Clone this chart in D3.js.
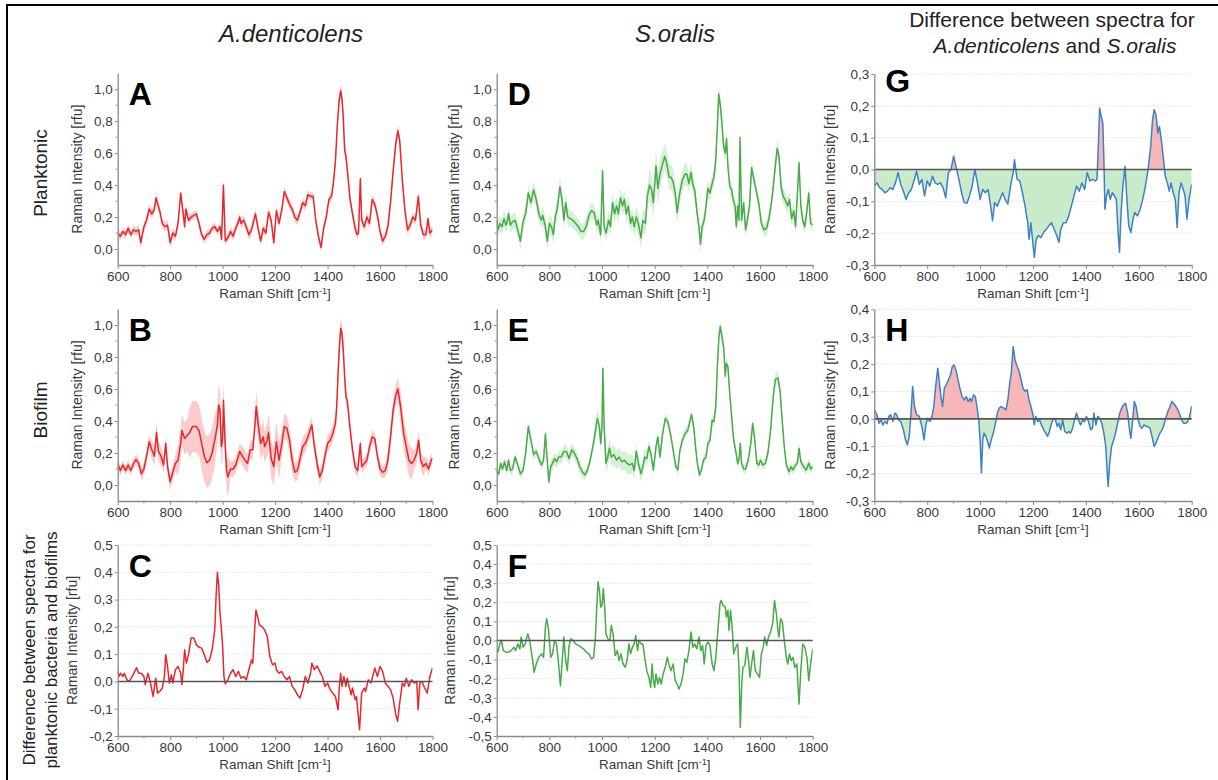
<!DOCTYPE html>
<html>
<head>
<meta charset="utf-8">
<script src="https://cdn.jsdelivr.net/npm/d3@7"></script>
<style>
  body { margin: 0; background: #fff; }
  svg { display: block; }
  text { font-family: "Liberation Sans", Arial, sans-serif; }
</style>
</head>
<body>
<svg id="fig" width="1218" height="780"></svg>
<script>
// ---------- spectra: [Raman shift (cm-1), intensity (rfu)] ----------
const planktonicAden = [[600,0.10],[610,0.08],[620,0.11],[630,0.09],[640,0.13],[650,0.09],[660,0.12],[670,0.11],[680,0.12],[688,0.04],[700,0.14],[710,0.18],[720,0.25],[730,0.22],[740,0.25],[746,0.32],[760,0.24],[770,0.16],[780,0.14],[790,0.15],[800,0.04],[810,0.10],[820,0.08],[830,0.16],[840,0.35],[850,0.22],[855,0.14],[860,0.25],[870,0.18],[880,0.20],[890,0.21],[900,0.22],[910,0.16],[920,0.09],[930,0.06],[940,0.09],[950,0.10],[960,0.13],[970,0.14],[980,0.11],[990,0.14],[996,0.06],[1003,0.40],[1010,0.05],[1020,0.07],[1030,0.11],[1040,0.08],[1050,0.13],[1060,0.17],[1065,0.20],[1070,0.16],[1080,0.18],[1090,0.14],[1100,0.09],[1110,0.12],[1125,0.22],[1135,0.13],[1145,0.05],[1155,0.13],[1165,0.10],[1175,0.23],[1185,0.18],[1195,0.04],[1205,0.24],[1215,0.16],[1225,0.24],[1235,0.36],[1245,0.32],[1255,0.28],[1265,0.25],[1275,0.20],[1285,0.18],[1295,0.23],[1305,0.29],[1315,0.27],[1325,0.34],[1335,0.33],[1345,0.33],[1355,0.18],[1365,0.08],[1375,0.01],[1385,0.13],[1395,0.20],[1405,0.31],[1415,0.33],[1422,0.41],[1430,0.55],[1437,0.77],[1444,0.93],[1450,0.99],[1455,0.94],[1460,0.82],[1465,0.62],[1470,0.58],[1478,0.45],[1485,0.32],[1495,0.22],[1505,0.13],[1512,0.09],[1518,0.10],[1525,0.44],[1530,0.18],[1540,0.14],[1550,0.20],[1560,0.16],[1570,0.31],[1580,0.28],[1590,0.21],[1600,0.11],[1610,0.05],[1620,0.08],[1630,0.14],[1640,0.29],[1650,0.49],[1660,0.66],[1668,0.74],[1675,0.68],[1685,0.43],[1695,0.24],[1705,0.12],[1715,0.15],[1725,0.20],[1735,0.18],[1746,0.33],[1755,0.15],[1765,0.09],[1775,0.09],[1783,0.19],[1790,0.10],[1800,0.12]];

const biofilmAden = [[600,0.135],[610,0.09],[620,0.125],[630,0.09],[640,0.125],[650,0.09],[660,0.135],[670,0.16],[680,0.135],[690,0.07],[700,0.10],[710,0.18],[720,0.27],[730,0.22],[740,0.18],[748,0.33],[755,0.21],[765,0.18],[775,0.125],[783,0.26],[790,0.115],[800,0.02],[810,0.08],[820,0.135],[830,0.155],[840,0.26],[845,0.34],[855,0.29],[865,0.31],[875,0.33],[885,0.365],[900,0.365],[910,0.34],[920,0.26],[930,0.18],[940,0.14],[950,0.155],[960,0.20],[970,0.28],[980,0.375],[985,0.50],[990,0.47],[995,0.24],[1000,0.28],[1003,0.53],[1010,0.24],[1015,0.09],[1020,0.05],[1030,0.10],[1040,0.10],[1050,0.125],[1060,0.18],[1065,0.21],[1075,0.18],[1085,0.155],[1095,0.135],[1105,0.22],[1115,0.22],[1122,0.355],[1128,0.49],[1135,0.385],[1145,0.26],[1155,0.30],[1160,0.24],[1170,0.28],[1175,0.33],[1185,0.165],[1195,0.115],[1205,0.27],[1215,0.155],[1225,0.25],[1235,0.365],[1245,0.355],[1255,0.28],[1265,0.155],[1275,0.08],[1285,0.09],[1295,0.165],[1305,0.24],[1315,0.26],[1325,0.30],[1340,0.375],[1350,0.24],[1360,0.135],[1370,0.05],[1380,0.09],[1390,0.18],[1400,0.26],[1410,0.28],[1420,0.32],[1430,0.385],[1435,0.49],[1440,0.70],[1445,0.86],[1450,0.98],[1455,0.95],[1460,0.84],[1465,0.68],[1470,0.55],[1475,0.53],[1485,0.365],[1495,0.22],[1505,0.115],[1515,0.09],[1525,0.26],[1530,0.115],[1540,0.135],[1550,0.155],[1560,0.24],[1570,0.30],[1580,0.29],[1590,0.18],[1600,0.10],[1610,0.08],[1620,0.09],[1630,0.155],[1640,0.30],[1650,0.47],[1660,0.56],[1668,0.60],[1680,0.47],[1690,0.32],[1700,0.24],[1710,0.155],[1720,0.135],[1730,0.155],[1740,0.20],[1747,0.28],[1755,0.155],[1765,0.115],[1775,0.135],[1785,0.10],[1795,0.155],[1800,0.165]];

const diffAden = [[600,0.037],[605,0.018],[610,0.03],[620,0.018],[625,0.03],[635,0.006],[645,0.0],[655,0.018],[665,0.037],[672,0.05],[680,0.03],[690,0.03],[700,0.018],[705,-0.012],[715,0.03],[725,-0.006],[735,-0.055],[745,0.012],[752,-0.043],[760,-0.037],[770,-0.024],[778,0.018],[783,0.098],[790,0.055],[797,-0.006],[805,0.024],[810,-0.006],[820,0.043],[830,0.055],[840,0.03],[845,-0.012],[850,0.043],[855,0.116],[862,0.067],[870,0.098],[880,0.159],[890,0.159],[900,0.134],[910,0.126],[920,0.122],[930,0.098],[940,0.07],[950,0.079],[960,0.116],[970,0.189],[975,0.311],[980,0.40],[985,0.354],[990,0.25],[995,0.195],[1000,0.128],[1005,0.018],[1010,-0.009],[1020,0.006],[1030,0.03],[1040,0.043],[1050,0.018],[1060,0.037],[1070,0.012],[1080,0.018],[1090,0.006],[1100,0.043],[1110,0.079],[1115,0.067],[1122,0.189],[1127,0.262],[1135,0.232],[1140,0.207],[1150,0.201],[1160,0.189],[1170,0.165],[1180,0.091],[1190,0.061],[1200,0.067],[1205,0.043],[1215,0.03],[1225,0.037],[1235,0.018],[1245,0.006],[1255,0.018],[1265,-0.018],[1275,-0.03],[1285,-0.049],[1295,-0.061],[1305,-0.03],[1315,0.018],[1325,-0.006],[1335,0.03],[1340,0.067],[1350,0.043],[1360,0.057],[1370,0.037],[1380,0.018],[1390,-0.018],[1400,-0.006],[1410,-0.03],[1420,-0.043],[1430,-0.055],[1440,-0.104],[1445,-0.018],[1450,0.03],[1455,-0.018],[1462,0.018],[1470,-0.018],[1475,0.012],[1482,-0.018],[1490,-0.049],[1495,-0.024],[1505,-0.067],[1510,-0.055],[1515,-0.104],[1522,-0.177],[1530,-0.043],[1540,-0.024],[1545,-0.037],[1555,0.006],[1565,-0.006],[1572,0.018],[1580,0.049],[1590,0.018],[1600,0.055],[1610,0.037],[1620,-0.006],[1630,-0.018],[1640,-0.03],[1650,-0.061],[1660,-0.122],[1667,-0.146],[1675,-0.079],[1685,-0.006],[1693,-0.018],[1700,0.012],[1710,-0.018],[1720,0.006],[1730,-0.006],[1740,0.0],[1745,-0.104],[1752,-0.006],[1760,0.0],[1770,-0.024],[1780,-0.043],[1790,0.018],[1800,0.049]];

const planktonicSor = [[600,0.18],[605,0.12],[612,0.16],[620,0.14],[628,0.19],[635,0.15],[640,0.17],[645,0.22],[652,0.15],[660,0.17],[670,0.18],[680,0.12],[690,0.05],[700,0.17],[710,0.22],[720,0.35],[730,0.29],[740,0.37],[750,0.31],[760,0.22],[770,0.18],[775,0.21],[785,0.14],[792,0.05],[800,0.16],[808,0.14],[815,0.09],[822,0.20],[830,0.25],[840,0.39],[848,0.31],[855,0.18],[862,0.29],[870,0.20],[880,0.19],[890,0.18],[900,0.16],[910,0.14],[920,0.11],[930,0.11],[940,0.14],[950,0.21],[960,0.24],[970,0.23],[980,0.15],[985,0.18],[995,0.09],[1002,0.49],[1008,0.14],[1015,0.10],[1025,0.18],[1032,0.14],[1040,0.29],[1048,0.22],[1055,0.27],[1062,0.22],[1070,0.32],[1078,0.27],[1085,0.31],[1092,0.22],[1100,0.27],[1108,0.16],[1115,0.20],[1122,0.14],[1130,0.20],[1138,0.16],[1148,0.07],[1155,0.18],[1165,0.16],[1172,0.33],[1180,0.40],[1188,0.37],[1195,0.29],[1205,0.52],[1212,0.38],[1220,0.47],[1228,0.52],[1238,0.58],[1245,0.54],[1255,0.45],[1262,0.45],[1270,0.42],[1278,0.35],[1285,0.23],[1295,0.35],[1305,0.43],[1315,0.47],[1322,0.47],[1330,0.41],[1338,0.48],[1345,0.40],[1352,0.37],[1360,0.24],[1368,0.14],[1374,0.03],[1380,0.14],[1388,0.18],[1395,0.27],[1402,0.38],[1410,0.35],[1418,0.41],[1425,0.45],[1432,0.56],[1438,0.77],[1443,0.97],[1450,0.89],[1456,0.77],[1462,0.64],[1468,0.60],[1473,0.69],[1478,0.52],[1485,0.39],[1492,0.37],[1498,0.31],[1505,0.27],[1510,0.14],[1515,0.27],[1520,0.18],[1524,0.70],[1530,0.18],[1538,0.29],[1545,0.12],[1552,0.18],[1560,0.27],[1568,0.51],[1575,0.45],[1585,0.37],[1595,0.29],[1605,0.16],[1615,0.12],[1625,0.13],[1635,0.20],[1645,0.31],[1655,0.47],[1665,0.63],[1672,0.58],[1680,0.39],[1688,0.33],[1695,0.31],[1705,0.27],[1712,0.31],[1720,0.19],[1728,0.24],[1735,0.14],[1740,0.29],[1748,0.54],[1755,0.27],[1762,0.18],[1770,0.14],[1778,0.24],[1785,0.35],[1792,0.16],[1800,0.15]];

const biofilmSor = [[600,0.09],[608,0.07],[615,0.135],[622,0.10],[630,0.145],[638,0.09],[645,0.155],[652,0.09],[660,0.10],[670,0.175],[680,0.125],[690,0.07],[700,0.09],[710,0.20],[720,0.365],[730,0.28],[740,0.19],[750,0.21],[760,0.165],[770,0.125],[778,0.155],[785,0.32],[790,0.20],[798,0.02],[805,0.115],[812,0.135],[820,0.165],[828,0.145],[835,0.175],[845,0.175],[855,0.21],[865,0.21],[875,0.165],[885,0.22],[895,0.20],[905,0.165],[915,0.115],[925,0.083],[935,0.063],[945,0.094],[955,0.155],[965,0.24],[975,0.34],[982,0.415],[990,0.365],[995,0.26],[1000,0.365],[1003,0.73],[1008,0.365],[1015,0.135],[1022,0.175],[1028,0.23],[1035,0.175],[1045,0.19],[1055,0.155],[1065,0.175],[1075,0.145],[1085,0.155],[1095,0.135],[1105,0.125],[1115,0.135],[1122,0.09],[1130,0.21],[1138,0.135],[1148,0.07],[1155,0.115],[1162,0.175],[1170,0.165],[1178,0.24],[1185,0.20],[1195,0.094],[1205,0.24],[1212,0.30],[1220,0.175],[1230,0.32],[1240,0.415],[1250,0.395],[1260,0.32],[1270,0.22],[1280,0.115],[1288,0.094],[1295,0.21],[1305,0.28],[1315,0.32],[1325,0.34],[1333,0.395],[1340,0.44],[1348,0.365],[1355,0.24],[1362,0.135],[1370,0.063],[1378,0.10],[1385,0.155],[1395,0.175],[1402,0.26],[1410,0.28],[1418,0.405],[1425,0.395],[1432,0.49],[1438,0.74],[1444,0.93],[1449,0.99],[1455,0.93],[1462,0.86],[1468,0.68],[1472,0.76],[1478,0.74],[1485,0.57],[1492,0.43],[1500,0.28],[1508,0.21],[1515,0.135],[1520,0.155],[1525,0.26],[1530,0.135],[1538,0.10],[1545,0.10],[1555,0.155],[1565,0.26],[1572,0.385],[1580,0.28],[1588,0.135],[1595,0.125],[1602,0.155],[1610,0.125],[1620,0.135],[1630,0.20],[1640,0.34],[1650,0.55],[1658,0.66],[1668,0.67],[1676,0.59],[1685,0.385],[1692,0.24],[1700,0.125],[1710,0.083],[1718,0.115],[1725,0.094],[1735,0.125],[1742,0.135],[1748,0.23],[1755,0.145],[1765,0.115],[1775,0.094],[1785,0.135],[1793,0.10],[1800,0.115]];

const diffSor = [[600,-0.044],[605,-0.061],[612,-0.018],[618,0.0],[625,-0.053],[635,-0.061],[645,-0.061],[655,-0.053],[665,-0.035],[672,-0.053],[680,-0.018],[688,-0.044],[693,0.018],[700,-0.035],[708,-0.018],[718,0.035],[725,0.0],[735,-0.088],[742,-0.167],[750,-0.123],[760,-0.088],[770,-0.07],[778,-0.088],[785,0.07],[790,0.114],[797,0.053],[805,-0.088],[812,-0.07],[820,0.0],[827,-0.018],[835,-0.123],[842,-0.237],[848,-0.123],[855,0.018],[862,-0.105],[868,-0.158],[875,-0.026],[882,0.009],[890,0.0],[900,-0.018],[910,-0.026],[920,-0.035],[930,-0.044],[940,-0.061],[950,-0.07],[960,-0.096],[968,-0.088],[975,0.018],[980,0.175],[985,0.307],[990,0.263],[995,0.175],[1000,0.184],[1005,0.272],[1010,0.175],[1015,0.035],[1022,0.009],[1030,0.0],[1035,0.079],[1042,0.035],[1050,-0.079],[1058,-0.053],[1065,-0.105],[1072,-0.07],[1080,-0.123],[1088,-0.14],[1095,-0.105],[1102,-0.018],[1108,-0.07],[1115,-0.035],[1122,-0.018],[1128,0.026],[1135,-0.053],[1140,0.0],[1148,-0.018],[1155,-0.018],[1162,-0.088],[1170,-0.158],[1178,-0.193],[1185,-0.246],[1190,-0.123],[1195,-0.21],[1200,-0.246],[1205,-0.175],[1212,-0.228],[1218,-0.193],[1225,-0.228],[1232,-0.175],[1240,-0.14],[1248,-0.088],[1255,-0.132],[1262,-0.158],[1270,-0.123],[1278,-0.21],[1285,-0.228],[1292,-0.254],[1300,-0.228],[1308,-0.175],[1315,-0.096],[1322,-0.114],[1330,-0.053],[1338,0.044],[1345,-0.035],[1352,-0.018],[1360,-0.044],[1368,0.018],[1375,-0.053],[1382,-0.026],[1388,-0.123],[1395,-0.026],[1402,-0.009],[1410,-0.026],[1418,-0.123],[1425,-0.158],[1432,-0.088],[1440,0.053],[1448,0.193],[1452,0.21],[1460,0.184],[1468,0.175],[1472,0.123],[1478,0.158],[1482,0.053],[1488,0.158],[1495,0.053],[1500,-0.07],[1508,-0.035],[1515,-0.018],[1520,-0.14],[1525,-0.456],[1530,-0.246],[1535,-0.14],[1542,-0.132],[1550,-0.035],[1555,-0.088],[1562,-0.193],[1568,-0.123],[1575,-0.053],[1582,-0.158],[1590,-0.175],[1598,-0.193],[1605,-0.07],[1612,-0.035],[1618,0.018],[1625,-0.026],[1632,0.018],[1640,0.044],[1648,0.088],[1655,0.21],[1662,0.14],[1668,0.053],[1672,0.018],[1678,0.114],[1685,0.096],[1692,0.0],[1700,-0.088],[1705,-0.123],[1712,-0.07],[1718,-0.105],[1725,-0.088],[1732,-0.14],[1740,-0.123],[1748,-0.333],[1755,-0.158],[1762,-0.018],[1770,-0.035],[1778,-0.088],[1785,-0.21],[1792,-0.123],[1800,-0.044]];

const diffPlanktonic = [[600,-0.052],[610,-0.042],[620,-0.057],[630,-0.063],[640,-0.073],[650,-0.068],[660,-0.057],[670,-0.063],[680,-0.042],[690,-0.01],[700,-0.047],[710,-0.068],[720,-0.094],[730,-0.073],[740,-0.063],[750,-0.036],[760,-0.005],[770,-0.047],[780,-0.031],[790,-0.083],[800,-0.036],[810,-0.052],[820,-0.021],[830,-0.042],[840,-0.047],[850,-0.042],[860,-0.057],[870,-0.089],[880,-0.01],[890,0.0],[900,0.042],[910,0.005],[920,-0.031],[930,-0.073],[940,-0.104],[950,-0.106],[960,-0.083],[970,-0.052],[980,0.0],[990,-0.042],[1000,-0.094],[1010,-0.063],[1020,-0.073],[1030,-0.063],[1040,-0.115],[1047,-0.161],[1055,-0.104],[1065,-0.115],[1075,-0.094],[1085,-0.073],[1095,-0.094],[1105,-0.109],[1115,-0.052],[1125,-0.01],[1130,0.031],[1140,-0.031],[1150,-0.036],[1160,-0.073],[1170,-0.115],[1180,-0.167],[1185,-0.219],[1192,-0.167],[1198,-0.219],[1205,-0.276],[1212,-0.219],[1220,-0.208],[1230,-0.214],[1240,-0.198],[1250,-0.188],[1260,-0.177],[1270,-0.167],[1280,-0.188],[1290,-0.208],[1298,-0.229],[1305,-0.188],[1315,-0.167],[1325,-0.167],[1335,-0.146],[1345,-0.115],[1355,-0.083],[1365,-0.052],[1375,-0.068],[1385,-0.042],[1395,-0.063],[1405,-0.01],[1415,-0.036],[1425,-0.031],[1435,-0.036],[1442,-0.031],[1447,0.073],[1452,0.193],[1458,0.167],[1464,0.146],[1468,0.031],[1472,-0.125],[1478,-0.083],[1485,-0.063],[1492,-0.094],[1500,-0.073],[1508,-0.083],[1515,-0.094],[1522,-0.198],[1527,-0.26],[1533,-0.135],[1540,-0.052],[1548,0.01],[1555,-0.094],[1562,-0.177],[1570,-0.198],[1578,-0.156],[1585,-0.135],[1595,-0.146],[1605,-0.125],[1615,-0.094],[1625,-0.052],[1635,0.0],[1645,0.073],[1652,0.156],[1658,0.188],[1665,0.172],[1672,0.115],[1678,0.135],[1685,0.094],[1692,0.042],[1700,-0.021],[1708,-0.042],[1715,-0.068],[1722,-0.042],[1730,-0.073],[1738,-0.094],[1745,-0.182],[1752,-0.073],[1760,-0.042],[1768,-0.063],[1775,-0.083],[1782,-0.156],[1790,-0.094],[1800,-0.047]];

const diffBiofilm = [[600,0.033],[610,0.015],[618,-0.016],[625,-0.004],[632,-0.022],[640,-0.01],[648,-0.018],[655,0.009],[662,0.015],[670,-0.01],[678,0.021],[685,0.015],[692,-0.004],[700,-0.01],[710,-0.04],[718,-0.077],[725,-0.095],[732,-0.064],[738,0.009],[745,0.118],[752,0.045],[760,0.015],[770,0.009],[780,-0.028],[788,-0.077],[795,-0.022],[802,0.002],[810,-0.01],[818,0.009],[825,0.045],[832,0.118],[840,0.185],[845,0.142],[852,0.081],[858,0.045],[865,0.112],[872,0.124],[880,0.142],[888,0.16],[895,0.191],[902,0.197],[910,0.173],[918,0.136],[925,0.106],[932,0.081],[940,0.069],[948,0.081],[955,0.063],[962,0.075],[968,0.063],[975,0.088],[982,0.081],[988,0.045],[995,-0.004],[1000,-0.077],[1005,-0.198],[1010,-0.077],[1015,-0.052],[1022,-0.064],[1030,-0.089],[1035,-0.107],[1042,-0.077],[1050,-0.052],[1058,-0.016],[1065,0.021],[1072,0.039],[1080,0.045],[1090,0.039],[1098,0.033],[1105,0.069],[1112,0.13],[1118,0.167],[1125,0.264],[1132,0.215],[1140,0.191],[1148,0.173],[1155,0.142],[1162,0.112],[1170,0.10],[1178,0.106],[1185,0.069],[1192,0.045],[1200,0.015],[1205,-0.022],[1210,0.009],[1218,-0.01],[1225,-0.004],[1232,-0.022],[1240,-0.04],[1248,-0.052],[1255,-0.064],[1262,-0.046],[1270,-0.016],[1278,0.002],[1285,-0.004],[1292,-0.028],[1298,-0.016],[1305,-0.04],[1312,-0.004],[1320,-0.046],[1328,-0.052],[1335,-0.046],[1342,-0.052],[1350,-0.034],[1358,0.002],[1365,0.021],[1372,-0.004],[1380,-0.022],[1388,-0.004],[1395,-0.01],[1402,0.009],[1410,-0.01],[1418,-0.04],[1425,-0.034],[1430,0.021],[1438,-0.022],[1445,0.009],[1452,0.002],[1460,-0.016],[1468,-0.052],[1475,-0.101],[1480,-0.186],[1484,-0.247],[1490,-0.162],[1497,-0.101],[1505,-0.077],[1512,-0.052],[1520,-0.016],[1528,0.021],[1535,0.039],[1542,0.051],[1550,0.057],[1558,0.021],[1565,-0.04],[1570,-0.071],[1577,-0.004],[1583,0.063],[1590,0.045],[1598,-0.004],[1605,-0.028],[1612,-0.034],[1620,-0.022],[1628,-0.028],[1635,-0.028],[1642,-0.034],[1650,-0.064],[1658,-0.101],[1665,-0.089],[1672,-0.071],[1680,-0.052],[1688,-0.04],[1695,-0.022],[1702,0.002],[1710,0.027],[1718,0.045],[1725,0.063],[1732,0.057],[1740,0.045],[1748,0.033],[1755,0.015],[1762,-0.004],[1770,-0.016],[1778,-0.016],[1785,-0.01],[1792,0.009],[1800,0.047]];

// ---------- standard deviation of the averaged spectra, every 50 cm-1 from 600 ----------
const sdPlanktonicAden = [0.025,0.025,0.03,0.03,0.03,0.025,0.025,0.025,0.025,0.03,0.03,0.03,0.03,0.03,0.03,0.025,0.03,0.04,0.03,0.03,0.03,0.04,0.03,0.03,0.03];
const sdBiofilmAden    = [0.03,0.03,0.04,0.06,0.05,0.10,0.16,0.16,0.12,0.05,0.06,0.10,0.12,0.08,0.06,0.05,0.05,0.06,0.04,0.04,0.04,0.07,0.10,0.06,0.04];
const sdPlanktonicSor  = [0.05,0.05,0.05,0.05,0.06,0.06,0.05,0.05,0.05,0.06,0.06,0.07,0.10,0.08,0.07,0.06,0.05,0.06,0.05,0.05,0.04,0.05,0.05,0.05,0.04];
const sdBiofilmSor     = [0.03,0.03,0.03,0.03,0.04,0.04,0.04,0.03,0.06,0.06,0.06,0.05,0.04,0.03,0.03,0.03,0.03,0.04,0.03,0.03,0.03,0.04,0.03,0.03,0.03];

// ---------- axis ticks ----------
const shiftTicks = [600, 800, 1000, 1200, 1400, 1600, 1800];
const shiftMinorTicks = [700, 900, 1100, 1300, 1500, 1700];
const spectrumTicks = [0, 0.2, 0.4, 0.6, 0.8, 1.0];
const spectrumMinorTicks = [0.1, 0.3, 0.5, 0.7, 0.9];
const diffTicksC = [-0.2, -0.1, 0, 0.1, 0.2, 0.3, 0.4, 0.5];
const diffTicksF = [-0.5, -0.4, -0.3, -0.2, -0.1, 0, 0.1, 0.2, 0.3, 0.4, 0.5];
const diffTicksG = [-0.3, -0.2, -0.1, 0, 0.1, 0.2, 0.3];
const diffTicksH = [-0.3, -0.2, -0.1, 0, 0.1, 0.2, 0.3, 0.4];

const RED = "#e8262b", RED_BAND = "#f9c3c3";
const GREEN = "#48aa48", GREEN_BAND = "#cfeccf";
const BLUE = "#3d80c6", POS_FILL = "#f7b7b8", NEG_FILL = "#c9ebc9";

const fmt = d3.formatLocale({decimal: ",", thousands: ".", grouping: [3], currency: ["", ""], minus: "-"}).format(".1f");

const svg = d3.select("#fig");
svg.append("rect").attr("width", 1218).attr("height", 780).attr("fill", "#fff");

// frame
svg.append("path").attr("d", "M7,780 V5 H1218").attr("fill", "none").attr("stroke", "#000").attr("stroke-width", 2);

const panels = [
  {key: "A", data: planktonicAden, sd: sdPlanktonicAden, color: RED, band: RED_BAND, left: 117.7, right: 432.5, top: 73.3, bottom: 265, domain: [-0.1, 1.1], ticks: spectrumTicks, minor: spectrumMinorTicks, title: "Raman Intensity [rfu]", titleX: 77},
  {key: "B", data: biofilmAden, sd: sdBiofilmAden, color: RED, band: RED_BAND, left: 117.7, right: 432.5, top: 309, bottom: 501, domain: [-0.1, 1.1], ticks: spectrumTicks, minor: spectrumMinorTicks, title: "Raman Intensity [rfu]", titleX: 77},
  {key: "C", data: diffAden, color: RED, left: 117.7, right: 432.5, top: 545, bottom: 736, domain: [-0.2, 0.5], ticks: diffTicksC, grid: true, zero: true, title: "Raman Intensity [rfu]", titleX: 72},
  {key: "D", data: planktonicSor, sd: sdPlanktonicSor, color: GREEN, band: GREEN_BAND, left: 496.7, right: 812.7, top: 73.3, bottom: 265, domain: [-0.1, 1.1], ticks: spectrumTicks, minor: spectrumMinorTicks, title: "Raman Intensity [rfu]", titleX: 454},
  {key: "E", data: biofilmSor, sd: sdBiofilmSor, color: GREEN, band: GREEN_BAND, left: 496.7, right: 812.7, top: 309, bottom: 501, domain: [-0.1, 1.1], ticks: spectrumTicks, minor: spectrumMinorTicks, title: "Raman Intensity [rfu]", titleX: 454},
  {key: "F", data: diffSor, color: GREEN, left: 496.7, right: 812.7, top: 545, bottom: 736, domain: [-0.5, 0.5], ticks: diffTicksF, grid: true, zero: true, title: "Raman intensity [rfu]", titleX: 450},
  {key: "G", data: diffPlanktonic, color: BLUE, signFill: true, left: 874.3, right: 1191.7, top: 74, bottom: 265, domain: [-0.3, 0.3], ticks: diffTicksG, grid: true, zero: true, title: "Raman Intensity [rfu]", titleX: 830},
  {key: "H", data: diffBiofilm, color: BLUE, signFill: true, left: 874.3, right: 1191.7, top: 309.3, bottom: 501, domain: [-0.3, 0.4], ticks: diffTicksH, grid: true, zero: true, title: "Raman Intensity [rfu]", titleX: 830}
];

panels.forEach(p => {
  const x = d3.scaleLinear().domain([600, 1800]).range([p.left, p.right]);
  const y = d3.scaleLinear().domain(p.domain).range([p.bottom, p.top]);
  const g = svg.append("g");
  const w = p.right - p.left;

  // horizontal grid
  if (p.grid) {
    g.append("g").selectAll("line").data(p.ticks.filter(t => t !== 0 && t !== p.domain[0])).join("line")
      .attr("x1", p.left).attr("x2", p.right)
      .attr("y1", d => y(d)).attr("y2", d => y(d))
      .attr("stroke", "#e6e6e6").attr("stroke-width", 1).attr("stroke-dasharray", "2,1");
  }

  const clipId = "clip" + p.key;
  svg.append("clipPath").attr("id", clipId).append("rect")
    .attr("x", p.left).attr("y", p.top).attr("width", w).attr("height", p.bottom - p.top);
  const plot = g.append("g").attr("clip-path", `url(#${clipId})`);

  // standard deviation band
  if (p.sd) {
    const sdAt = s => p.sd[Math.max(0, Math.min(p.sd.length - 1, Math.round((s - 600) / 50)))];
    const band = d3.area().x(d => x(d[0])).y0(d => y(d[1] - sdAt(d[0]))).y1(d => y(d[1] + sdAt(d[0])));
    plot.append("path").datum(p.data).attr("d", band).attr("fill", p.band).attr("opacity", 0.85);
  }

  // sign-coloured fill between the difference spectrum and zero
  if (p.signFill) {
    const area = d3.area().x(d => x(d[0])).y0(y(0)).y1(d => y(d[1]));
    const posId = "pos" + p.key, negId = "neg" + p.key;
    svg.append("clipPath").attr("id", posId).append("rect")
      .attr("x", p.left).attr("y", p.top).attr("width", w).attr("height", y(0) - p.top);
    svg.append("clipPath").attr("id", negId).append("rect")
      .attr("x", p.left).attr("y", y(0)).attr("width", w).attr("height", p.bottom - y(0));
    plot.append("path").datum(p.data).attr("d", area).attr("fill", POS_FILL).attr("clip-path", `url(#${posId})`);
    plot.append("path").datum(p.data).attr("d", area).attr("fill", NEG_FILL).attr("clip-path", `url(#${negId})`);
  }

  // zero line
  if (p.zero) {
    g.append("line").attr("x1", p.left).attr("x2", p.right).attr("y1", y(0)).attr("y2", y(0))
      .attr("stroke", "#555").attr("stroke-width", 1.6);
  }

  // spectrum
  plot.append("path").datum(p.data)
    .attr("d", d3.line().x(d => x(d[0])).y(d => y(d[1])))
    .attr("fill", "none").attr("stroke", p.color).attr("stroke-width", 1.5).attr("stroke-linejoin", "round");

  // x axis
  const xAxis = g.append("g").attr("transform", `translate(0,${p.bottom})`)
    .call(d3.axisBottom(x).tickValues(shiftTicks).tickFormat(d => String(d)).tickSize(4).tickPadding(2).tickSizeOuter(0));
  xAxis.append("g").selectAll("line").data(shiftMinorTicks).join("line")
    .attr("x1", d => x(d)).attr("x2", d => x(d)).attr("y1", 0).attr("y2", 2.5).attr("stroke", "#8a8a8a");

  // y axis
  const yAxis = g.append("g").attr("transform", `translate(${p.left},0)`)
    .call(d3.axisLeft(y).tickValues(p.ticks).tickFormat(fmt).tickSize(3).tickPadding(2).tickSizeOuter(0));
  if (p.minor) {
    yAxis.append("g").selectAll("line").data(p.minor).join("line")
      .attr("x1", 0).attr("x2", -2).attr("y1", d => y(d)).attr("y2", d => y(d)).attr("stroke", "#8a8a8a");
  }

  [xAxis, yAxis].forEach(a => {
    a.select(".domain").attr("stroke", "#8a8a8a").attr("stroke-width", 1.3);
    a.selectAll(".tick line").attr("stroke", "#8a8a8a");
    a.selectAll(".tick text").attr("fill", "#3a3a3a").attr("font-size", 13.5)
      .attr("font-family", "'Liberation Sans', Arial, sans-serif");
  });

  // axis titles
  const xt = g.append("text").attr("x", (p.left + p.right) / 2).attr("y", p.bottom + 33)
    .attr("text-anchor", "middle").attr("font-size", 13.5).attr("fill", "#3a3a3a");
  xt.append("tspan").text("Raman Shift [cm");
  xt.append("tspan").attr("dy", -4).attr("font-size", 9).text("-1");
  xt.append("tspan").attr("dy", 4).text("]");

  g.append("text")
    .attr("transform", `translate(${p.titleX},${(p.top + p.bottom) / 2}) rotate(-90)`)
    .attr("dy", "0.35em").attr("text-anchor", "middle").attr("font-size", 14).attr("fill", "#3a3a3a")
    .text(p.title);

  // panel letter
  g.append("text").attr("x", p.left + 11).attr("y", p.top + (p.key === "G" ? 18 : 32))
    .attr("font-size", 32).attr("font-weight", "bold").attr("fill", "#000").text(p.key);
});

// column and row headings
const head = (x, y, size, parts, anchor = "middle") => {
  const t = svg.append("text").attr("x", x).attr("y", y).attr("text-anchor", anchor)
    .attr("font-size", size).attr("fill", "#222");
  parts.forEach(([s, it]) => t.append("tspan").attr("font-style", it ? "italic" : "normal").text(s));
  return t;
};
head(291, 42, 24, [["A.denticolens", true]]);
head(675, 42, 24, [["S.oralis", true]]);
head(1052, 27, 21, [["Difference between spectra for", false]]);
head(1055, 53, 21, [["A.denticolens", true], [" and ", false], ["S.oralis", true]]);

const rowLabel = (x, y, size, s) => svg.append("text")
  .attr("transform", `translate(${x},${y}) rotate(-90)`).attr("dy", "0.35em")
  .attr("text-anchor", "middle").attr("font-size", size).attr("fill", "#222").text(s);
rowLabel(40, 173, 19, "Planktonic");
rowLabel(40, 410, 19, "Biofilm");
rowLabel(29, 650, 17, "Difference between spectra for");
rowLabel(51, 650, 17, "planktonic bacteria and biofilms");
</script>
</body>
</html>
